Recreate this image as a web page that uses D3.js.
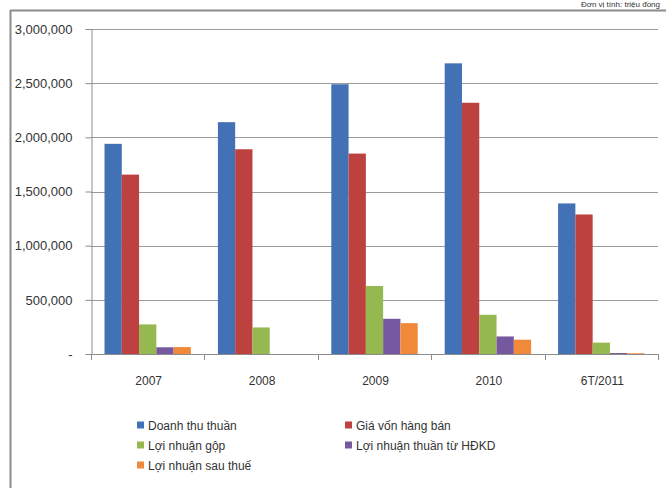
<!DOCTYPE html>
<html>
<head>
<meta charset="utf-8">
<script src="https://cdn.jsdelivr.net/npm/d3@7"></script>
<style>
  html, body { margin: 0; padding: 0; background: #fff; }
  svg { display: block; }
  text { font-family: "Liberation Sans", Arial, sans-serif; fill: #333; }
</style>
</head>
<body>
<svg id="chart" width="666" height="488"></svg>
<script>
const categories = ["2007", "2008", "2009", "2010", "6T/2011"];
const seriesNames = ["Doanh thu thuần", "Giá vốn hàng bán", "Lợi nhuận gộp", "Lợi nhuận thuần từ HĐKD", "Lợi nhuận sau thuế"];
const doanhThuThuan = [1940000, 2140000, 2490000, 2683000, 1390000];
const giaVonHangBan = [1656000, 1890000, 1850000, 2319000, 1288000];
const loiNhuanGop = [273000, 245000, 628000, 362000, 105000];
const loiNhuanThuanHDKD = [62000, 0, 325000, 162000, 9000];
const loiNhuanSauThue = [64000, 0, 285000, 132000, 7000];
const yTicks = [0, 500000, 1000000, 1500000, 2000000, 2500000, 3000000];
const seriesColors = ["#4272b5", "#bd423f", "#95b850", "#7658a0", "#f08a3a"];

const seriesValues = [doanhThuThuan, giaVonHangBan, loiNhuanGop, loiNhuanThuanHDKD, loiNhuanSauThue];

const svg = d3.select("#chart");
const plotLeft = 91, plotRight = 658, plotTop = 29, plotBottom = 354;

// Outer frame (partially visible)
svg.append("line").attr("x1", 10).attr("x2", 666).attr("y1", 10.5).attr("y2", 10.5)
  .attr("stroke", "#8c8c8c").attr("stroke-width", 2);
svg.append("line").attr("x1", 10.5).attr("x2", 10.5).attr("y1", 10).attr("y2", 488)
  .attr("stroke", "#8c8c8c").attr("stroke-width", 2);

// Unit text at the top right
svg.append("text").attr("x", 660).attr("y", 7).attr("text-anchor", "end")
  .style("font-size", "8px").attr("fill", "#555").text("Đơn vị tính: triệu đồng");

const x0 = d3.scaleBand().domain(categories).range([plotLeft, plotRight]).padding(0);
const x1 = d3.scaleBand().domain(d3.range(seriesNames.length))
  .range([13.5, x0.bandwidth() - 13.5]).padding(0);
const y = d3.scaleLinear().domain([0, 3000000]).range([plotBottom, plotTop]);

// Gridlines
svg.append("g").selectAll("line").data(yTicks.filter(d => d > 0)).join("line")
  .attr("x1", plotLeft).attr("x2", plotRight)
  .attr("y1", d => Math.round(y(d)) + 0.5).attr("y2", d => Math.round(y(d)) + 0.5)
  .attr("stroke", "#9a9a9a").attr("stroke-width", 1);

// Bars
const groups = svg.append("g").selectAll("g").data(categories).join("g")
  .attr("transform", c => `translate(${x0(c)},0)`);
groups.selectAll("rect").data((c, ci) => seriesValues.map((vals, si) => ({si, v: vals[ci]})))
  .join("rect")
  .attr("x", d => x1(d.si))
  .attr("width", x1.bandwidth())
  .attr("y", d => y(d.v))
  .attr("height", d => y(0) - y(d.v))
  .attr("fill", d => seriesColors[d.si]);

// Y axis
const yAxis = d3.axisLeft(y).tickValues(yTicks)
  .tickFormat(d => d === 0 ? "-" : d3.format(",")(d))
  .tickSize(6).tickPadding(13);
const gy = svg.append("g").attr("transform", `translate(${plotLeft + 0.5},0)`).call(yAxis);
gy.select(".domain").attr("stroke", "#8c8c8c");
gy.selectAll(".tick line").attr("stroke", "#8c8c8c");
gy.selectAll(".tick text").style("font-size", "13px").style("font-family", "'Liberation Sans', Arial, sans-serif").attr("fill", "#333");

// X axis
const gx = svg.append("g");
gx.append("line").attr("x1", plotLeft).attr("x2", plotRight)
  .attr("y1", plotBottom + 0.5).attr("y2", plotBottom + 0.5).attr("stroke", "#8c8c8c");
const boundaries = categories.map(c => x0(c)).concat([x0.range()[1]]);
gx.selectAll("line.tk").data(boundaries).join("line").attr("class", "tk")
  .attr("x1", d => Math.round(d) + 0.5).attr("x2", d => Math.round(d) + 0.5)
  .attr("y1", plotBottom).attr("y2", plotBottom + 6).attr("stroke", "#8c8c8c");
gx.selectAll("text").data(categories).join("text")
  .attr("x", c => x0(c) + x0.bandwidth() / 2 + 1)
  .attr("y", 385)
  .attr("text-anchor", "middle")
  .style("font-size", "12px")
  .text(c => c);

// Legend
const legendPos = [
  {x: 137, y: 425}, {x: 345, y: 425},
  {x: 137, y: 445}, {x: 345, y: 445},
  {x: 137, y: 465}
];
const lg = svg.append("g").selectAll("g").data(seriesNames).join("g")
  .attr("transform", (d, i) => `translate(${legendPos[i].x},${legendPos[i].y})`);
lg.append("rect").attr("x", 0).attr("y", -3.5).attr("width", 7).attr("height", 7)
  .attr("fill", (d, i) => seriesColors[i]);
lg.append("text").attr("x", 11).attr("y", 4.5).style("font-size", "12px").text(d => d);
</script>
</body>
</html>
